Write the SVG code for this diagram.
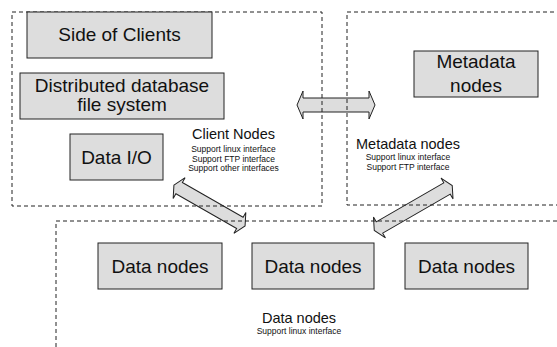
<svg xmlns="http://www.w3.org/2000/svg" width="557" height="347" viewBox="0 0 557 347">
<defs>
<style>
.box{fill:#dddddd;stroke:#222;stroke-width:1}
.region{fill:none;stroke:#222;stroke-width:1;stroke-dasharray:4,3}
.arrow{fill:#dddddd;stroke:#222;stroke-width:1;stroke-linejoin:miter}
text{font-family:"Liberation Sans",Arial,sans-serif;fill:#111;text-anchor:middle}
.big{font-size:19px}
.mid{font-size:14.5px}
.small{font-size:8.5px}
</style>
</defs>
<rect width="557" height="347" fill="#ffffff"/>
<g id="connectors">
<path class="arrow" d="M297,105 L303,91 L303,98 L369,98 L369,91 L375,105 L369,119 L369,112 L303,112 L303,119 Z"/>
<path class="arrow" transform="translate(209.5,205.5) rotate(29.8)" d="M-41,0 L-35,-12 L-35,-6.5 L35,-6.5 L35,-12 L41,0 L35,12 L35,6.5 L-35,6.5 L-35,12 Z"/>
<path class="arrow" transform="translate(413.25,208) rotate(-30)" d="M-45,0 L-39,-12 L-39,-6.5 L39,-6.5 L39,-12 L45,0 L39,12 L39,6.5 L-39,6.5 L-39,12 Z"/>
</g>
<g id="client-region">
<rect class="region" x="12" y="12" width="310" height="194"/>
<text class="mid" x="233.5" y="139">Client Nodes</text>
<text class="small" x="233.5" y="152">Support linux interface</text>
<text class="small" x="233.5" y="161.5">Support FTP interface</text>
<text class="small" x="233.5" y="171">Support other interfaces</text>
</g>
<g id="metadata-region">
<rect class="region" x="347" y="12" width="220" height="193"/>
<text class="mid" x="408" y="149">Metadata nodes</text>
<text class="small" x="408" y="160">Support linux interface</text>
<text class="small" x="408" y="170">Support FTP interface</text>
</g>
<g id="data-region">
<path class="region" d="M56,347 L56,221 L557,221"/>
<text class="mid" x="299" y="323">Data nodes</text>
<text class="small" x="299" y="333.5">Support linux interface</text>
</g>
<g id="side-of-clients">
<rect class="box" x="27" y="12" width="185" height="46"/>
<text class="big" x="119.5" y="41">Side of Clients</text>
</g>
<g id="distributed-db">
<rect class="box" x="20" y="73" width="204" height="46"/>
<text class="big" x="122" y="92">Distributed database</text>
<text class="big" x="122" y="111">file system</text>
</g>
<g id="data-io">
<rect class="box" x="70" y="134" width="93" height="46"/>
<text class="big" x="116.5" y="164">Data I/O</text>
</g>
<g id="metadata-nodes">
<rect class="box" x="414" y="51" width="124" height="46"/>
<text class="big" x="476" y="68">Metadata</text>
<text class="big" x="476" y="92">nodes</text>
</g>
<g id="data-nodes-1">
<rect class="box" x="98" y="243" width="124" height="46"/>
<text class="big" x="160" y="273">Data nodes</text>
</g>
<g id="data-nodes-2">
<rect class="box" x="252" y="243" width="122" height="46"/>
<text class="big" x="313" y="273">Data nodes</text>
</g>
<g id="data-nodes-3">
<rect class="box" x="405" y="243" width="123" height="46"/>
<text class="big" x="466.5" y="273">Data nodes</text>
</g>
</svg>
